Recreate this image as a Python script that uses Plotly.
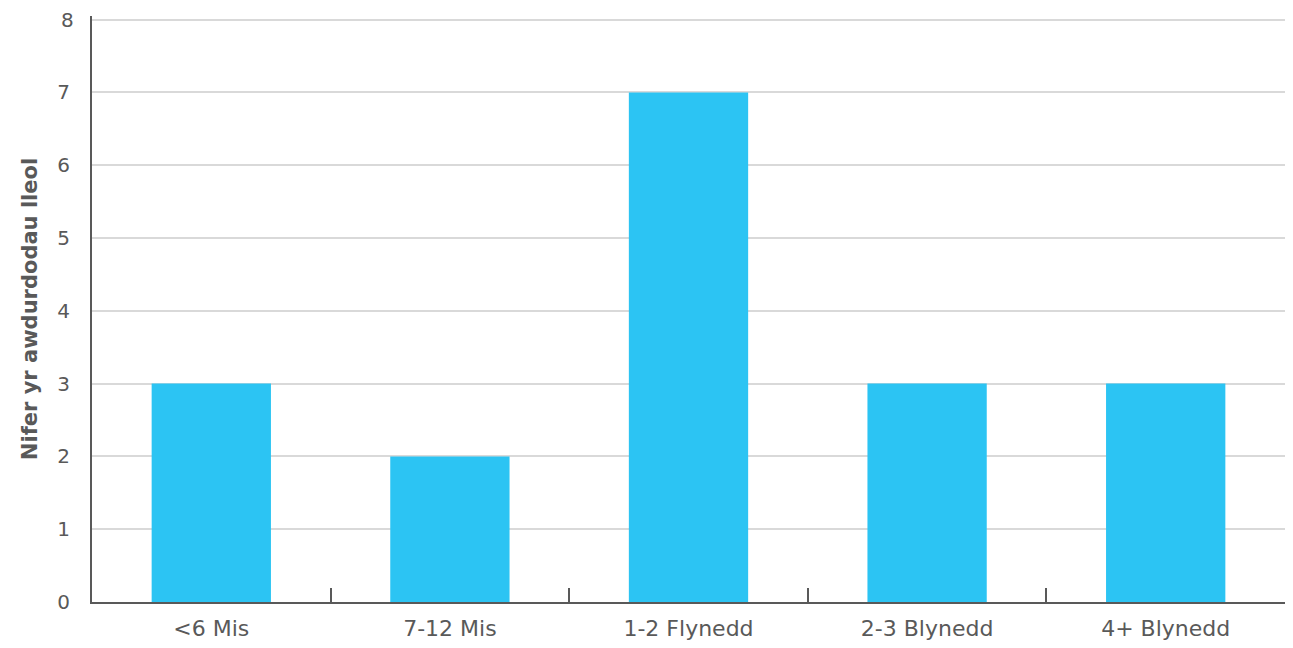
import plotly.graph_objects as go

categories = ["<6 Mis", "7-12 Mis", "1-2 Flynedd", "2-3 Blynedd", "4+ Blynedd"]
values = [3, 2, 7, 3, 3]
y_ticks = [0, 1, 2, 3, 4, 5, 6, 7, 8]
y_title = "Nifer yr awdurdodau lleol"

fig = go.Figure(go.Bar(x=categories, y=values, marker=dict(color="#2CC4F3", line=dict(width=0)), width=0.5))

fig.update_layout(
    width=1277, height=632,
    margin=dict(l=84, r=0, t=8, b=38),
    plot_bgcolor="white", paper_bgcolor="white",
    font=dict(family="DejaVu Sans, sans-serif", color="#595959"),
    showlegend=False,
)
fig.update_xaxes(
    type="category", showline=True, linecolor="#595959", linewidth=2,
    ticks="inside", tickson="boundaries", ticklen=14, tickcolor="#595959", tickwidth=2,
    tickfont=dict(size=22, color="#595959"), ticklabelstandoff=6,
    showgrid=False, automargin=False,
)
fig.update_yaxes(
    range=[0, 8.05], tickvals=y_ticks, ticktext=[str(v) if v != y_ticks[-1] else "" for v in y_ticks],
    showline=True, linecolor="#595959", linewidth=2,
    gridcolor="#D9D9D9", gridwidth=2, zeroline=False,
    tickfont=dict(size=20, color="#595959"), ticks="", ticklabelstandoff=16,
    title=dict(text="<b>" + y_title + "</b>", font=dict(size=21, color="#595959"), standoff=14),
    automargin=False,
)
# top tick label drawn as annotation (plotly drops it at the figure edge)
fig.add_annotation(
    x=0, xref="paper", xanchor="right", xshift=-16,
    y=y_ticks[-1], yref="y", yanchor="middle",
    text=str(y_ticks[-1]), showarrow=False,
    font=dict(size=20, color="#595959", family="DejaVu Sans, sans-serif"),
)
fig.write_html("out.html")
